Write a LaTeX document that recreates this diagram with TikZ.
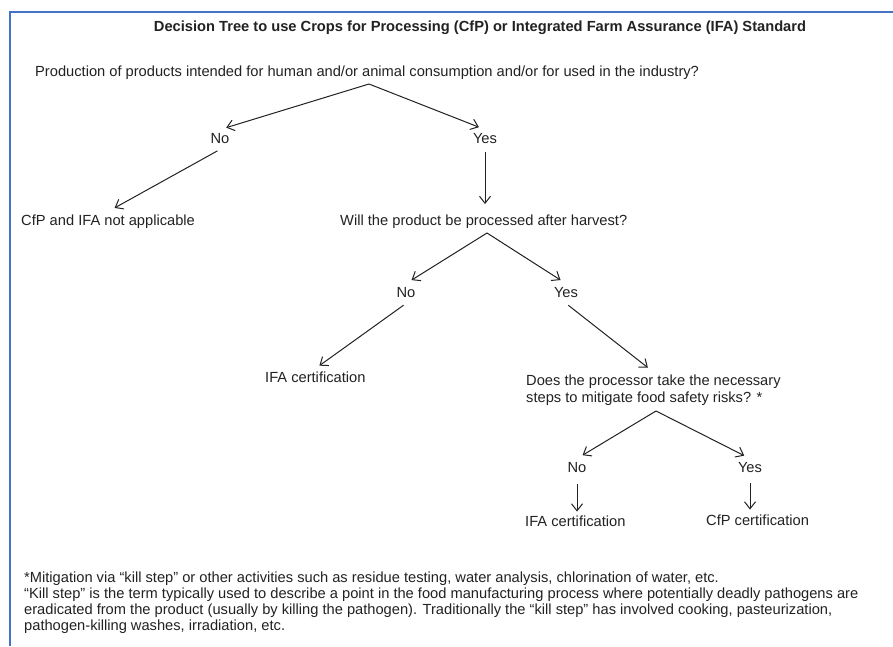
\documentclass[tikz,border=0pt]{standalone}
\usepackage{fontspec}
\setmainfont{Liberation Sans}
\usepackage{xcolor}
\usetikzlibrary{arrows.meta}
\definecolor{frameblue}{HTML}{4472C4}
\definecolor{inkgray}{HTML}{222222}

\begin{document}
\begin{tikzpicture}[x=1pt, y=-1pt,
    txt/.style={inner sep=3pt, text height=10.5pt, text depth=3pt,
        font=\fontsize{14.67}{17}\selectfont, text=inkgray},
    para/.style={inner sep=3pt, align=left, text=inkgray},
    arr/.style={-{Straight Barb[length=7pt, width=11pt]}, draw=inkgray, line width=1pt,
        shorten >=6.5pt, shorten <=3pt}]
        \useasboundingbox[fill=white] (0,0) rectangle (893,646);
        \draw[frameblue, line width=2.5pt] (10,646) -- (10,12) -- (893,12);

        \node[txt, font=\fontsize{14.67}{17}\selectfont\bfseries] (title) at (480,27.5)
            {Decision Tree to use Crops for Processing (CfP) or Integrated Farm Assurance (IFA) Standard};

        \node[txt, anchor=west] (q1) at (32,72.5)
            {Production of products intended for human and/or animal consumption and/or for used in the industry?};
        \coordinate (s1) at (369,84);
        \node[txt] (no1) at (220,139.5) {No};
        \node[txt] (yes1) at (485,139.5) {Yes};
        \node[txt, anchor=west] (na) at (18,221.5) {CfP and IFA not applicable};

        \node[txt, anchor=west] (q2) at (337,221.5) {Will the product be processed after harvest?};
        \coordinate (s2) at (487,233);
        \node[txt] (no2) at (406,293.5) {No};
        \node[txt] (yes2) at (566,293.5) {Yes};
        \node[txt, anchor=west] (ifa1) at (262,378.5) {IFA certification};

        \node[para, anchor=north west, font=\fontsize{14.67}{17}\selectfont] (q3) at (523,372)
            {Does the processor take the necessary\\steps to mitigate food safety risks? *};
        \coordinate (s3) at (656,411);
        \node[txt] (no3) at (577,468.5) {No};
        \node[txt] (yes3) at (750,468.5) {Yes};
        \node[txt, anchor=west] (ifa2) at (522,522.5) {IFA certification};
        \node[txt, anchor=west] (cfp) at (703,521.5) {CfP certification};

        \node[para, anchor=north west, font=\fontsize{14.67}{16}\selectfont] (note) at (21,569)
            {*Mitigation via “kill step” or other activities such as residue testing, water analysis, chlorination of water, etc.\\
             “Kill step” is the term typically used to describe a point in the food manufacturing process where potentially deadly pathogens are\\
             eradicated from the product (usually by killing the pathogen). Traditionally the “kill step” has involved cooking, pasteurization,\\
             pathogen-killing washes, irradiation, etc.};

        \draw[arr, shorten <=0pt] (s1) -- (no1.north);
        \draw[arr, shorten <=0pt] (s1) -- (yes1.north);
        \draw[arr, shorten >=7.5pt] (no1.south) -- (na.north);
        \draw[arr, shorten >=7.5pt] (yes1.south) -- (yes1.south |- q2.north);

        \draw[arr, shorten <=0pt] (s2) -- (no2.north);
        \draw[arr, shorten <=0pt] (s2) -- (yes2.north);
        \draw[arr, shorten >=5pt] (no2.south) -- (ifa1.north);
        \draw[arr, shorten >=7pt] (yes2.south) -- (q3.north);

        \draw[arr, shorten <=0pt] (s3) -- (no3.north);
        \draw[arr, shorten <=0pt] (s3) -- (yes3.north);
        \draw[arr, shorten <=6pt, shorten >=1pt] (no3.south) -- (no3.south |- ifa2.north);
        \draw[arr, shorten <=5pt, shorten >=2pt] (yes3.south) -- (yes3.south |- cfp.north);
    \end{tikzpicture}
\end{document}
